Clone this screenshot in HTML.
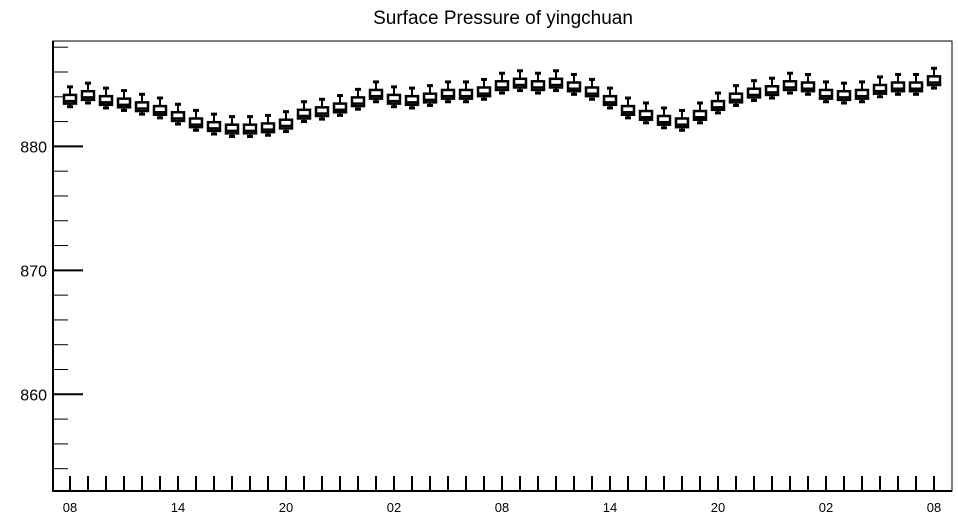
<!DOCTYPE html>
<html><head><meta charset="utf-8"><style>
html,body{margin:0;padding:0;background:#fff;}
svg{display:block;font-family:"Liberation Sans",Arial,sans-serif;}
</style></head><body>
<svg id="chart" width="958" height="520" viewBox="0 0 958 520">
<text x="503" y="24" text-anchor="middle" font-size="19">Surface Pressure of yingchuan</text>
<g id="frame"></g>
<g id="yaxis"></g>
<g id="xaxis"></g>
<g id="boxes"></g>
</svg>
<script>
const medians = [883.8,884.1,883.7,883.5,883.2,882.9,882.4,881.9,881.6,881.4,881.4,881.5,881.8,882.6,882.8,883.1,883.6,884.2,883.8,883.7,883.9,884.2,884.2,884.4,884.9,885.1,884.9,885.1,884.8,884.4,883.7,882.9,882.5,882.1,881.9,882.5,883.3,883.9,884.3,884.5,884.9,884.8,884.2,884.1,884.2,884.6,884.8,884.8,885.3];
const xTickLabels = ["08","14","20","02","08","14","20","02","08"];
const yTickLabels = [860,870,880];
const yMin = 852.2, yMax = 888.5;
const L=53, R=952, T=41, B=491, X0=70, DX=18;
const ns="http://www.w3.org/2000/svg";
function yS(v){return B-(v-yMin)/(yMax-yMin)*(B-T);}
function xS(i){return X0+i*DX;}
function mk(tag,attrs,parent){const e=document.createElementNS(ns,tag);for(const k in attrs)e.setAttribute(k,attrs[k]);parent.appendChild(e);return e;}
const frame=document.getElementById('frame'), ya=document.getElementById('yaxis'), xa=document.getElementById('xaxis'), bx=document.getElementById('boxes');
let r=mk('rect',{x:L,y:T,width:R-L,height:B-T,fill:'none',stroke:'#000','stroke-width':1},frame);


let l=mk('line',{x1:L,y1:T,x2:L,y2:B+1,stroke:'#000','stroke-width':2},ya);


for(let v=854; v<=888; v+=2){
  const major = v%10===0;
  const t=mk('line',{x1:L,y1:yS(v),x2:L+(major?30:15),y2:yS(v),stroke:'#000','stroke-width':major?2:1},ya);
  
  
}
yTickLabels.forEach(v=>{
  const t=mk('text',{x:L-6,y:yS(v)+6,'text-anchor':'end','font-size':16},ya);
  t.textContent=v;
  
  
});
let xl=mk('line',{x1:L-1,y1:B,x2:R,y2:B,stroke:'#000','stroke-width':2},xa);


for(let i=0; xS(i)<R; i++){
  const t=mk('line',{x1:xS(i),y1:B-15,x2:xS(i),y2:B,stroke:'#000','stroke-width':2},xa);
  
  
}
xTickLabels.forEach((s,k)=>{
  const t=mk('text',{x:xS(k*6),y:512,'text-anchor':'middle','font-size':13},xa);
  t.textContent=s;
  
  
});
medians.forEach((m,i)=>{
  const g=mk('g',{},bx);
  
  
  const x=xS(i), q3=m+0.35, q1=m-0.35, hi=m+1.0, lo=m-0.6;
  mk('line',{x1:x,y1:yS(hi),x2:x,y2:yS(q3),stroke:'#000','stroke-width':2},g);
  mk('line',{x1:x,y1:yS(q1),x2:x,y2:yS(lo),stroke:'#000','stroke-width':2},g);
  mk('line',{x1:x-3,y1:yS(hi),x2:x+3,y2:yS(hi),stroke:'#000','stroke-width':3},g);
  mk('line',{x1:x-3,y1:yS(lo),x2:x+3,y2:yS(lo),stroke:'#000','stroke-width':3},g);
  mk('rect',{x:x-6,y:yS(q3),width:12,height:yS(q1)-yS(q3),fill:'#fff',stroke:'#000','stroke-width':2.5},g);
  mk('line',{x1:x-6,y1:yS(m-0.15),x2:x+6,y2:yS(m-0.15),stroke:'#000','stroke-width':2.5},g);
});
</script>
</body></html>
